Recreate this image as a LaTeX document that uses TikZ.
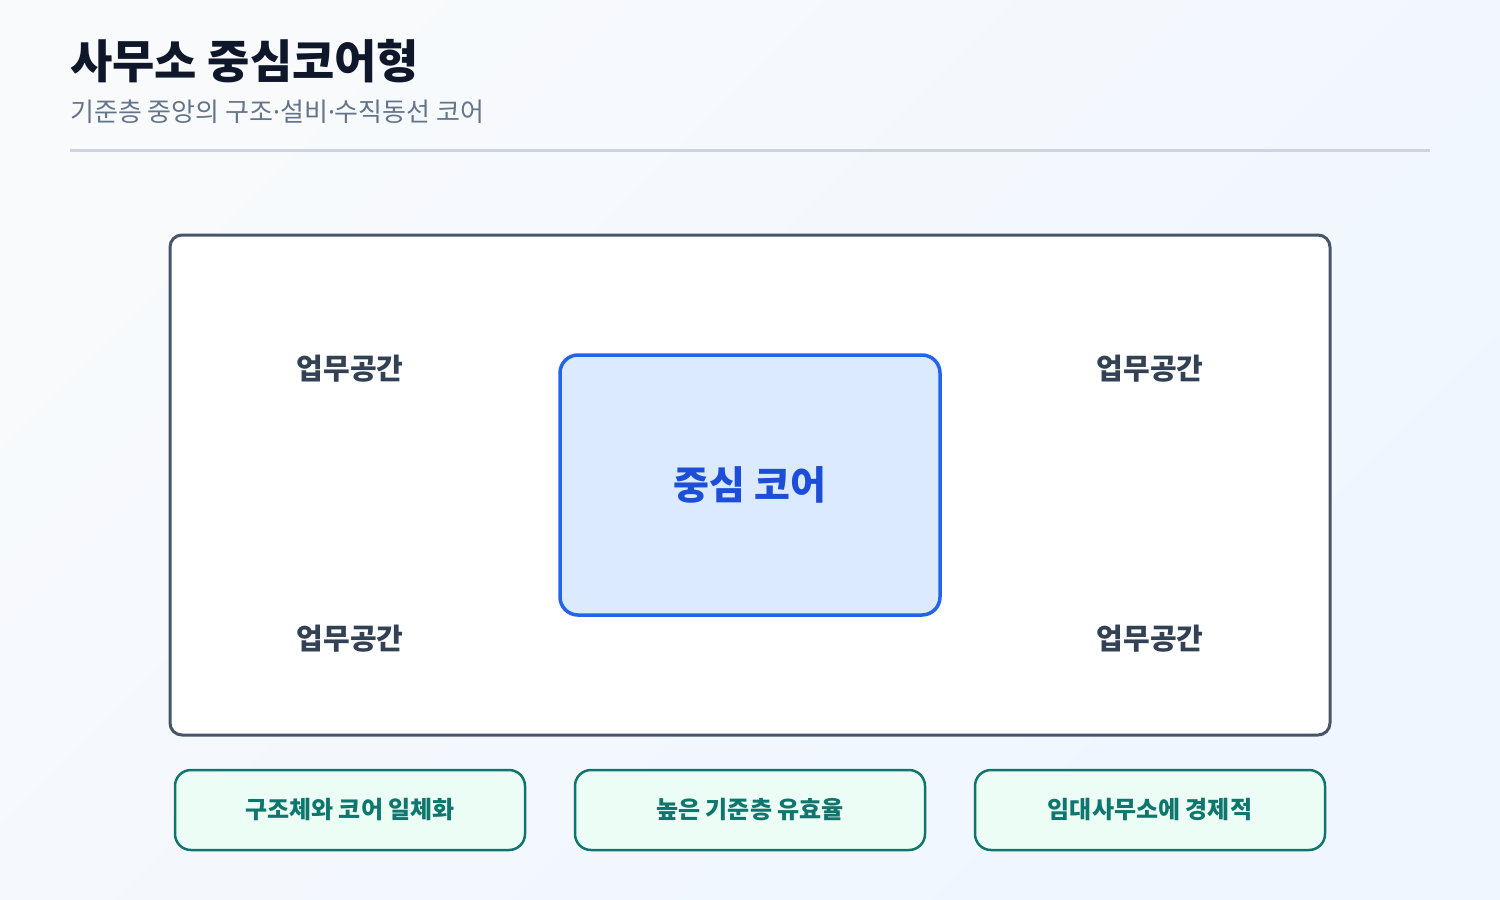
\documentclass[tikz,border=0pt]{standalone}
\usepackage{fontspec}
\setmainfont{Noto Sans CJK KR}
\newfontfamily\latinface{Noto Sans}
\usetikzlibrary{positioning}

\definecolor{bgtop}{HTML}{F8FAFC}
\definecolor{bgbottom}{HTML}{EFF6FF}
\definecolor{titleink}{HTML}{0F172A}
\definecolor{subink}{HTML}{64748B}
\definecolor{ruleink}{HTML}{CBD5E1}
\definecolor{slateink}{HTML}{475569}
\definecolor{officeink}{HTML}{334155}
\definecolor{coreink}{HTML}{2563EB}
\definecolor{corefill}{HTML}{DBEAFE}
\definecolor{coretext}{HTML}{1D4ED8}
\definecolor{noteink}{HTML}{0F766E}
\definecolor{notefill}{HTML}{ECFDF5}

\newcommand{\middot}{{\latinface ·}}

\tikzset{
  floor/.style = {draw=slateink, line width=3pt, rounded corners=12pt,
    fill=white, minimum width=1160pt, minimum height=500pt,
    inner sep=0pt, outer sep=0pt},
  core/.style = {draw=coreink, line width=3.5pt, rounded corners=18pt,
    fill=corefill, minimum width=380pt, minimum height=260pt,
    inner sep=0pt, outer sep=0pt, text=coretext,
    font=\bfseries\fontsize{39}{46}\selectfont},
  office/.style = {text=officeink, inner sep=0pt,
    font=\bfseries\fontsize{29}{34}\selectfont},
  note/.style = {draw=noteink, line width=2.5pt, rounded corners=16pt,
    fill=notefill, minimum width=350pt, minimum height=80pt,
    inner sep=0pt, outer sep=0pt, text=noteink,
    font=\bfseries\fontsize{24}{28}\selectfont}
}

\begin{document}
\begin{tikzpicture}[x=1pt, y=-1pt]
\useasboundingbox (0,0) rectangle (1500,900);
\shade[left color=bgtop, right color=bgbottom, shading angle=45]
  (0,0) rectangle (1500,900);

% heading
\node [anchor=base west, inner sep=0pt, text=titleink,
       font=\bfseries\fontsize{46}{54}\selectfont] (title) at (70,78)
       {사무소 중심코어형};
\node [anchor=base west, inner sep=0pt, text=subink,
       font=\fontsize{26}{31}\selectfont] (subtitle) at (70,121)
       {기준층 중앙의 구조\middot 설비\middot 수직동선 코어};
\coordinate (rulel) at (70,150);
\coordinate (ruler) at (1430,150);
\draw [ruleink, line width=3pt] (rulel) -- (ruler);

% floor plate
\node [floor] (floor) at (750,485) {};
\node [core] (core) at (750,485) {중심 코어};
\node [office] (nw) at (350,369) {업무공간};
\node [office] (ne) at (1150,369) {업무공간};
\node [office] (sw) at (350,639) {업무공간};
\node [office] (se) at (1150,639) {업무공간};

% notes
\node [note, below=35pt of floor] (efficiency) {높은 기준층 유효율};
\node [note, left=50pt of efficiency] (structure) {구조체와 코어 일체화};
\node [note, right=50pt of efficiency] (rental) {임대사무소에 경제적};
\end{tikzpicture}
\end{document}
